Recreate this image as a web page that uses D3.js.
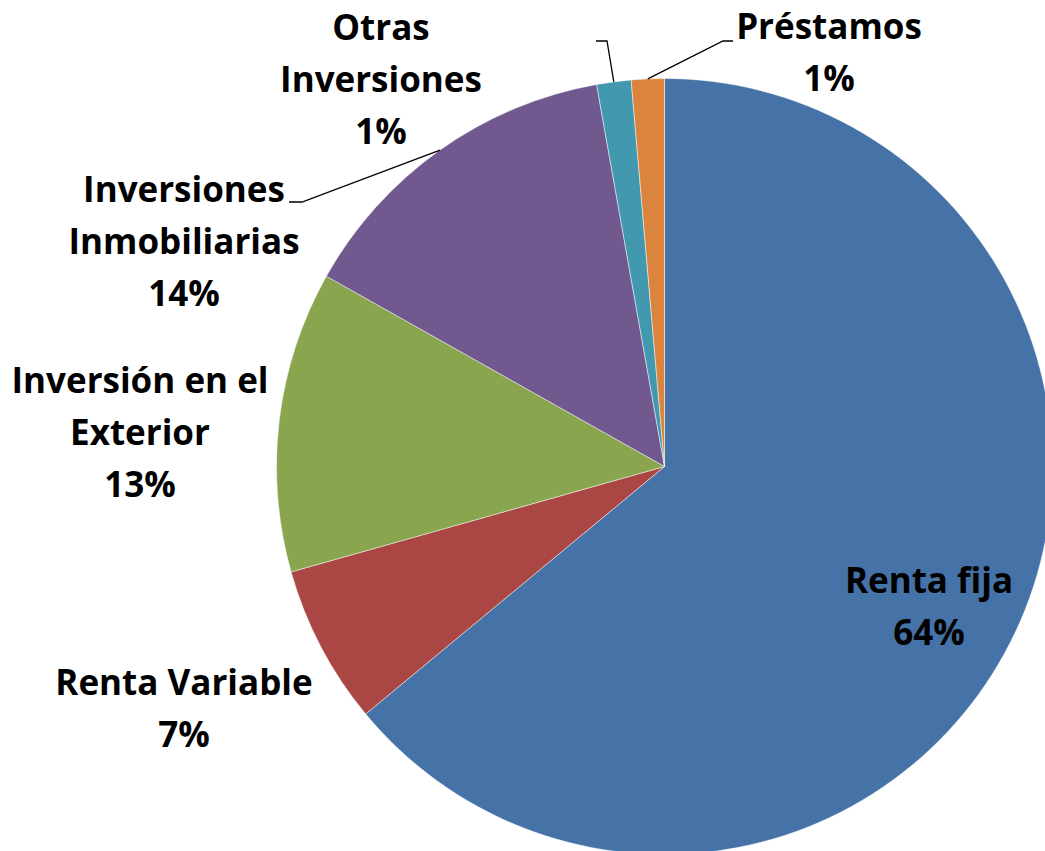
<!DOCTYPE html>
<html>
<head>
<meta charset="utf-8">
<script src="https://cdn.jsdelivr.net/npm/d3@7"></script>
<style>
  body { margin: 0; background: #fff; }
  text { font-family: "Open Sans", Lato, sans-serif; font-weight: bold; fill: #000; }
</style>
</head>
<body>
<div id="chart"></div>
<script>
// datos de la cartera
var categories = ["Renta fija", "Renta Variable", "Inversión en el Exterior", "Inversiones Inmobiliarias", "Otras Inversiones", "Préstamos"];
var values = [63.99, 6.63, 12.54, 14.04, 1.43, 1.37];
var labelLines = [["Renta fija"], ["Renta Variable"], ["Inversión en el", "Exterior"], ["Inversiones", "Inmobiliarias"], ["Otras", "Inversiones"], ["Préstamos"]];
var colors = ["#4572A7", "#AA4643", "#89A54E", "#71588F", "#4198AF", "#DB843D"];

// posicion de las etiquetas (centro x, primera linea base y) y codos de las guias
var labelPos = [[929, 593], [184, 695], [140, 393], [184, 202], [381, 40], [829, 39]];
var leader = [null, null, null, [[302, 202], [289, 202]], [[607, 41], [596, 41]], [[723, 41], [733, 41]]];

var width = 1045, height = 851;
var cx = 664.5, cy = 466.5, radius = 388;
var lineH = 52;

var svg = d3.select("#chart")
  .append("svg")
    .attr("width", width)
    .attr("height", height);

var g = svg.append("g")
  .attr("transform", "translate(" + cx + "," + cy + ")");

var pie = d3.pie().sort(null).value(function(d) { return d.value; });
var arc = d3.arc().innerRadius(0).outerRadius(radius);
var edge = d3.arc().innerRadius(radius).outerRadius(radius);

var data = categories.map(function(c, i) {
  return { name: c, value: values[i], lines: labelLines[i], color: colors[i], pos: labelPos[i], leader: leader[i] };
});
var arcs = pie(data);

g.selectAll("path.slice")
  .data(arcs)
  .enter()
  .append("path")
    .attr("class", "slice")
    .attr("d", arc)
    .attr("fill", function(d) { return d.data.color; })
    .attr("stroke", "#ffffff")
    .attr("stroke-opacity", 0.6)
    .style("stroke-width", 0.8);

// lineas guia
svg.selectAll("path.leader")
  .data(arcs.filter(function(d) { return d.data.leader; }))
  .enter()
  .append("path")
    .attr("class", "leader")
    .attr("d", function(d) {
      var p = edge.centroid(d);
      var pts = [[cx + p[0], cy + p[1]]].concat(d.data.leader);
      return d3.line()(pts);
    })
    .attr("fill", "none")
    .attr("stroke", "#000")
    .style("stroke-width", 1.3);

// etiquetas
var labels = svg.selectAll("text.label")
  .data(arcs)
  .enter()
  .append("text")
    .attr("class", "label")
    .attr("text-anchor", "middle")
    .style("font-size", "35px");

labels.each(function(d) {
  var t = d3.select(this);
  var lines = d.data.lines.concat([Math.round(d.data.value) + "%"]);
  lines.forEach(function(s, i) {
    t.append("tspan")
      .attr("x", d.data.pos[0])
      .attr("y", d.data.pos[1] + i * lineH)
      .text(s);
  });
});
</script>
</body>
</html>
